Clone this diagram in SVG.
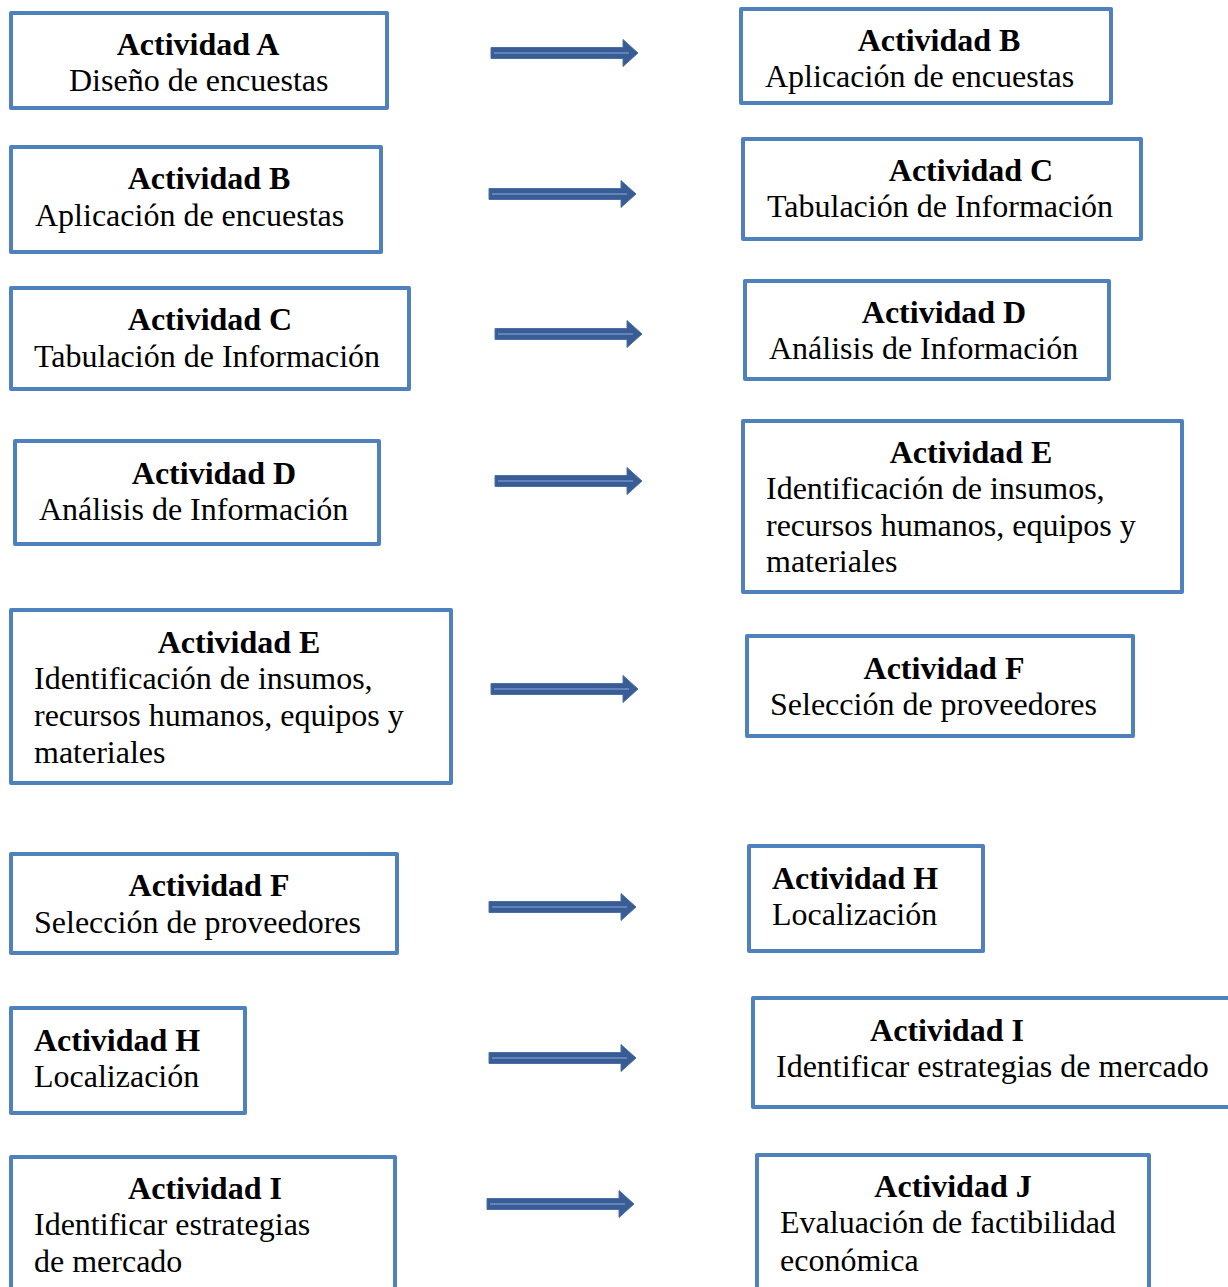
<svg xmlns="http://www.w3.org/2000/svg" xmlns:xlink="http://www.w3.org/1999/xlink" width="1228" height="1287" viewBox="0 0 1228 1287">
<style>
.box{fill:#ffffff;stroke:#4F81BD;stroke-width:4;stroke-linejoin:round}
.t{font-family:"Liberation Serif","Times New Roman",serif;font-size:32px;fill:#000000}
.b{font-weight:bold;text-anchor:middle}
.bl{font-weight:bold}
</style>
<defs>
<g id="arr">
<path d="M0,-5.5 L132,-5.5 L132,-13.5 L147,0 L132,13.5 L132,5.5 L0,5.5 Z" fill="#385C93" stroke="#4A70A8" stroke-width="1"/>
<line x1="3" y1="0" x2="138" y2="0" stroke="#6F93C9" stroke-width="1.5"/>
</g>
</defs>
<rect width="1228" height="1287" fill="#ffffff"/>
<g id="connectors">
<use xlink:href="#arr" href="#arr" transform="translate(491,53)"/>
<use xlink:href="#arr" href="#arr" transform="translate(489,194)"/>
<use xlink:href="#arr" href="#arr" transform="translate(495,334)"/>
<use xlink:href="#arr" href="#arr" transform="translate(495,481)"/>
<use xlink:href="#arr" href="#arr" transform="translate(491,689)"/>
<use xlink:href="#arr" href="#arr" transform="translate(489,907)"/>
<use xlink:href="#arr" href="#arr" transform="translate(489,1058)"/>
<use xlink:href="#arr" href="#arr" transform="translate(487,1204)"/>
</g>
<g id="left-A">
<rect class="box" x="11" y="13" width="376" height="95"/>
<text class="t b" x="198" y="55">Actividad A</text>
<text class="t" x="69" y="91">Diseño de encuestas</text>
</g>
<g id="left-B">
<rect class="box" x="11" y="147" width="370" height="105"/>
<text class="t b" x="209" y="189">Actividad B</text>
<text class="t" x="35" y="226">Aplicación de encuestas</text>
</g>
<g id="left-C">
<rect class="box" x="11" y="288" width="398" height="101"/>
<text class="t b" x="210" y="330">Actividad C</text>
<text class="t" x="34" y="367">Tabulación de Información</text>
</g>
<g id="left-D">
<rect class="box" x="15" y="441" width="364" height="103"/>
<text class="t b" x="214" y="484">Actividad D</text>
<text class="t" x="39" y="520">Análisis de Información</text>
</g>
<g id="left-E">
<rect class="box" x="11" y="610" width="440" height="173"/>
<text class="t b" x="239" y="653">Actividad E</text>
<text class="t" x="34" y="689">Identificación de insumos,</text>
<text class="t" x="34" y="726">recursos humanos, equipos y</text>
<text class="t" x="34" y="763">materiales</text>
</g>
<g id="left-F">
<rect class="box" x="11" y="854" width="386" height="99"/>
<text class="t b" x="209" y="896">Actividad F</text>
<text class="t" x="34" y="933">Selección de proveedores</text>
</g>
<g id="left-H">
<rect class="box" x="11" y="1008" width="234" height="105"/>
<text class="t bl" x="34" y="1051">Actividad H</text>
<text class="t" x="34" y="1087">Localización</text>
</g>
<g id="left-I">
<rect class="box" x="11" y="1157" width="384" height="140"/>
<text class="t b" x="205" y="1199">Actividad I</text>
<text class="t" x="34" y="1235">Identificar estrategias</text>
<text class="t" x="34" y="1272">de mercado</text>
</g>
<g id="right-B">
<rect class="box" x="741" y="9" width="370" height="94"/>
<text class="t b" x="939" y="51">Actividad B</text>
<text class="t" x="765" y="87">Aplicación de encuestas</text>
</g>
<g id="right-C">
<rect class="box" x="743" y="139" width="398" height="100"/>
<text class="t b" x="971" y="181">Actividad C</text>
<text class="t" x="767" y="217">Tabulación de Información</text>
</g>
<g id="right-D">
<rect class="box" x="745" y="281" width="364" height="98"/>
<text class="t b" x="944" y="323">Actividad D</text>
<text class="t" x="769" y="359">Análisis de Información</text>
</g>
<g id="right-E">
<rect class="box" x="743" y="421" width="439" height="171"/>
<text class="t b" x="971" y="463">Actividad E</text>
<text class="t" x="766" y="499">Identificación de insumos,</text>
<text class="t" x="766" y="536">recursos humanos, equipos y</text>
<text class="t" x="766" y="572">materiales</text>
</g>
<g id="right-F">
<rect class="box" x="747" y="636" width="386" height="100"/>
<text class="t b" x="944" y="679">Actividad F</text>
<text class="t" x="770" y="715">Selección de proveedores</text>
</g>
<g id="right-H">
<rect class="box" x="749" y="846" width="234" height="105"/>
<text class="t bl" x="772" y="889">Actividad H</text>
<text class="t" x="772" y="925">Localización</text>
</g>
<g id="right-I">
<rect class="box" x="753" y="998" width="490" height="109"/>
<text class="t b" x="947" y="1041">Actividad I</text>
<text class="t" x="776" y="1077">Identificar estrategias de mercado</text>
</g>
<g id="right-J">
<rect class="box" x="757" y="1155" width="392" height="140"/>
<text class="t b" x="953" y="1197">Actividad J</text>
<text class="t" x="780" y="1233">Evaluación de factibilidad</text>
<text class="t" x="780" y="1271">económica</text>
</g>
</svg>
